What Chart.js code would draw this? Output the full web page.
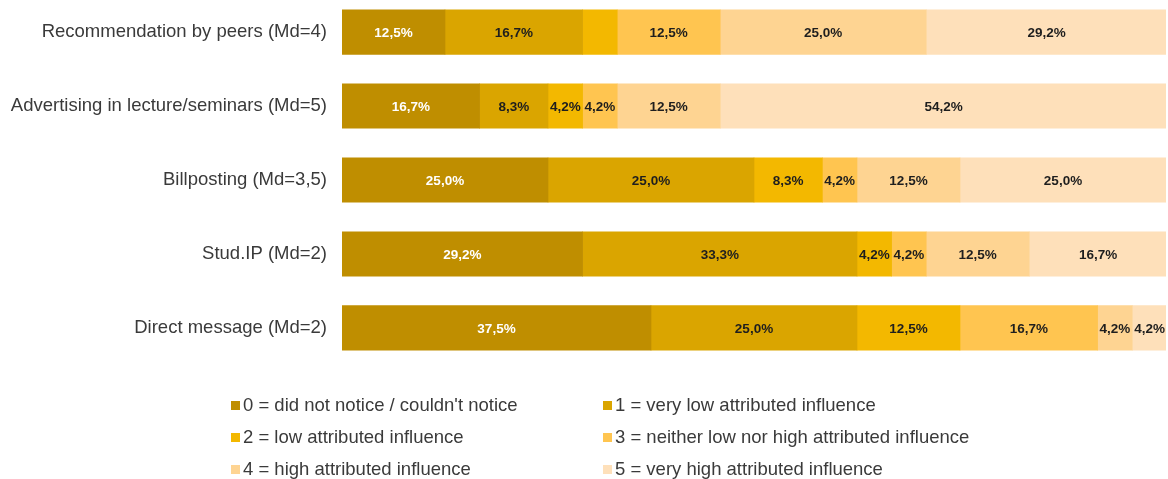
<!DOCTYPE html>
<html>
<head>
<meta charset="utf-8">
<script src="https://cdn.jsdelivr.net/npm/chart.js@4.4.1/dist/chart.umd.min.js"></script>
<style>
  html, body { margin:0; padding:0; background:#fff; width:1168px; height:479px; overflow:hidden; position:relative; }
  #wrap { position:absolute; left:0; top:-31px; width:1168px; height:422px; }
  #legend { position:absolute; left:0; top:0; width:1168px; height:479px; pointer-events:none;
            font-family:"Liberation Sans", Arial, sans-serif; font-size:18.5px; color:#3a3a3a; }
  .li { position:absolute; white-space:nowrap; line-height:20px; }
  .sw { position:absolute; width:9px; height:9px; }
</style>
</head>
<body>
<div id="wrap"><canvas id="c"></canvas></div>
<div id="legend"></div>
<script>
const categories = [
  "Recommendation by peers (Md=4)",
  "Advertising in lecture/seminars (Md=5)",
  "Billposting (Md=3,5)",
  "Stud.IP (Md=2)",
  "Direct message (Md=2)"
];
const seriesNames = [
  "0 = did not notice / couldn't notice",
  "1 = very low attributed influence",
  "2 = low attributed influence",
  "3 = neither low nor high attributed influence",
  "4 = high attributed influence",
  "5 = very high attributed influence"
];
const level0 = [12.5, 16.7, 25.0, 29.2, 37.5];
const level1 = [16.7, 8.3, 25.0, 33.3, 25.0];
const level2 = [4.2, 4.2, 8.3, 4.2, 12.5];
const level3 = [12.5, 4.2, 4.2, 4.2, 16.7];
const level4 = [25.0, 12.5, 12.5, 12.5, 4.2];
const level5 = [29.2, 54.2, 25.0, 16.7, 4.2];
const colors = ["#BF8E00", "#DAA500", "#F3B800", "#FFC550", "#FED492", "#FEE0BA"];
const labelColors = ["#FFFFFF", "#1e1e1e", "#1e1e1e", "#1e1e1e", "#1e1e1e", "#1e1e1e"];
// [datasetIndex, categoryIndex] of segments shown without a value label
const hiddenLabels = [[2, 0]];

const allLevels = [level0, level1, level2, level3, level4, level5];

const valueLabels = {
  id: 'valueLabels',
  afterDatasetsDraw(chart) {
    const ctx = chart.ctx;
    ctx.save();
    ctx.font = 'bold 13.5px "Liberation Sans", Arial, sans-serif';
    ctx.textAlign = 'center';
    ctx.textBaseline = 'middle';
    chart.data.datasets.forEach((ds, di) => {
      const meta = chart.getDatasetMeta(di);
      meta.data.forEach((el, i) => {
        if (hiddenLabels.some(h => h[0] === di && h[1] === i)) return;
        const v = ds.data[i];
        const txt = v.toFixed(1).replace('.', ',') + '%';
        ctx.fillStyle = labelColors[di];
        ctx.fillText(txt, (el.x + el.base) / 2, el.y + 1);
      });
    });
    ctx.restore();
  }
};

new Chart(document.getElementById('c'), {
  type: 'bar',
  data: {
    labels: categories,
    datasets: allLevels.map((vals, i) => ({
      label: seriesNames[i],
      data: vals,
      backgroundColor: colors[i],
      borderWidth: 0,
      barThickness: 44.5
    }))
  },
  options: {
    indexAxis: 'y',
    responsive: true,
    maintainAspectRatio: false,
    animation: false,
    layout: { padding: { left: 0, right: 2, top: 0, bottom: 0 } },
    plugins: { legend: { display: false }, tooltip: { enabled: false } },
    scales: {
      x: { stacked: true, min: 0, max: 100, display: false },
      y: {
        stacked: true,
        grid: { display: false, drawTicks: false },
        border: { display: false },
        ticks: {
          color: '#3a3a3a',
          padding: 15,
          font: { family: '"Liberation Sans", Arial, sans-serif', size: 18.5 }
        },
        afterFit(scale) { scale.width = 342; }
      }
    }
  },
  plugins: [valueLabels]
});

// legend: 2 columns x 3 rows
const legend = document.getElementById('legend');
const colX = [231, 603];
const rowY = [405, 437, 469];
seriesNames.forEach((name, i) => {
  const col = i % 2, row = Math.floor(i / 2);
  const sw = document.createElement('div');
  sw.className = 'sw';
  sw.style.background = colors[i];
  sw.style.left = colX[col] + 'px';
  sw.style.top = (rowY[row] - 4) + 'px';
  legend.appendChild(sw);
  const t = document.createElement('div');
  t.className = 'li';
  t.textContent = name;
  t.style.left = (colX[col] + 12) + 'px';
  t.style.top = (rowY[row] - 10) + 'px';
  legend.appendChild(t);
});
</script>
</body>
</html>
